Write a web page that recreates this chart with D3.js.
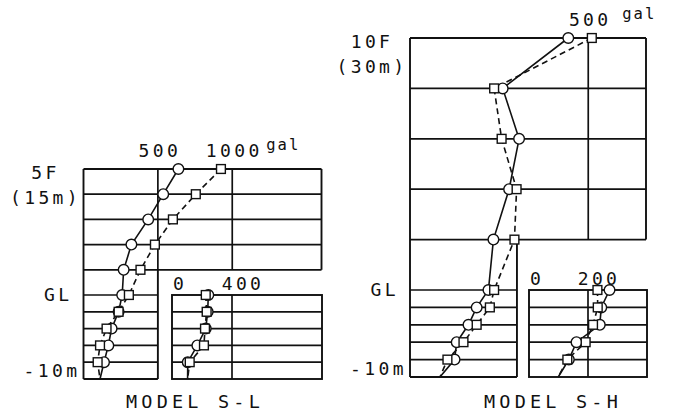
<!DOCTYPE html>
<html>
<head>
<meta charset="utf-8">
<script src="https://cdn.jsdelivr.net/npm/d3@7"></script>
<style>
    body { margin: 0; background: #fff; }
    svg { display: block; }
    text { font-family: "DejaVu Sans Mono", monospace; fill: #111; }
</style>
</head>
<body>
<svg id="chart"></svg>
<script>
// levels in m (above GL +, below GL -), peak values
const levelsSL = [15, 12, 9, 6, 3, 0, -2, -4, -6, -8, -10];
const circleSL = [638, 536, 435, 322, 270, 260, 236, 189, 167, 138, 111];
const squareSL = [924, 755, 601, 480, 383, 305, 236, 155, 111, 95, 111];

const levelsSH = [30, 24, 18, 12, 6, 0, -2, -4, -6, -8, -10];
const circleSH = [444, 260, 306, 278, 234, 220, 187, 164, 131, 125, 84];
const squareSH = [510, 236, 257, 299, 293, 236, 224, 187, 150, 105, 84];

// second quantity, underground only
const depths = [0, -2, -4, -6, -8, -10];
const circleSL2 = [242, 238, 225, 169, 105, 104];
const squareSL2 = [225, 231, 220, 213, 118, 104];
const circleSH2 = [273, 245, 240, 161, 135, 99];
const squareSH2 = [232, 233, 217, 192, 130, 99];

const ticksSL = [500, 1000];
const ticksSL2 = [0, 400];
const ticksSH = [500];
const ticksSH2 = [0, 200];

const floorSL = ["5F", "(15m)"];
const floorSH = ["10F", "(30m)"];

const svg = d3.select("#chart").attr("width", 691).attr("height", 412);
svg.append("rect").attr("width", 691).attr("height", 412).attr("fill", "#fff");

function drawPanel(p) {
    const g = svg.append("g");
    const x = p.x, y = p.y, x2 = p.x2;
    const top = d3.max(p.levels), bottom = d3.min(p.levels);
    const xMax = x.domain()[1], x2Max = x2.domain()[1];

    const line = (x1, y1, x2_, y2_, w) => g.append("line")
        .attr("x1", x1).attr("y1", y1).attr("x2", x2_).attr("y2", y2_)
        .attr("stroke", "#111").attr("stroke-width", w || 1.7);

    // upper frame + grid
    line(x(0), y(top), x(xMax), y(top), 1.9);
    line(x(0), y(top), x(0), y(bottom), 1.9);
    line(x(xMax), y(top), x(xMax), y(p.cutLevel), 1.9);
    p.levels.filter(l => l < top).forEach(l => {
        if (l >= p.cutLevel) line(x(0), y(l), x(xMax), y(l));
        else line(x(0), y(l), x(p.cutX), y(l), l == bottom ? 1.9 : 1.7);
    });
    p.ticks.forEach(t => line(x(t), y(top), x(t), y(p.cutLevel)));
    line(x(p.cutX), y(p.cutLevel), x(p.cutX), y(bottom), 1.9);

    // lower right frame
    g.append("rect")
        .attr("x", x2(0)).attr("y", y(0))
        .attr("width", x2(x2Max) - x2(0)).attr("height", y(bottom) - y(0))
        .attr("fill", "none").attr("stroke", "#111").attr("stroke-width", 1.9);
    depths.filter(d => d < 0 && d > bottom).forEach(d => line(x2(0), y(d), x2(x2Max), y(d)));
    p.ticks2.filter(t => t > 0).forEach(t => line(x2(t), y(0), x2(t), y(bottom)));

    // profiles
    const series = [
        { xs: x, lv: p.levels, vals: p.circle, kind: "circle" },
        { xs: x, lv: p.levels, vals: p.square, kind: "square" },
        { xs: x2, lv: depths, vals: p.circle2, kind: "circle" },
        { xs: x2, lv: depths, vals: p.square2, kind: "square" }
    ];
    series.forEach(s => {
        const pts = s.vals.map((v, i) => ({ v: v, h: s.lv[i] }));
        g.append("path")
            .datum(pts)
            .attr("d", d3.line().x(d => s.xs(d.v)).y(d => y(d.h)))
            .attr("fill", "none").attr("stroke", "#111").attr("stroke-width", 1.6)
            .attr("stroke-dasharray", s.kind == "square" ? "6,4" : null);
    });
    series.forEach(s => {
        const pts = s.vals.map((v, i) => ({ v: v, h: s.lv[i] })).filter(d => d.h > bottom);
        if (s.kind == "circle") {
            g.selectAll(null).data(pts).enter().append("circle")
                .attr("cx", d => s.xs(d.v)).attr("cy", d => y(d.h)).attr("r", 5.3)
                .attr("fill", "#fff").attr("stroke", "#111").attr("stroke-width", 1.4);
        } else {
            g.selectAll(null).data(pts).enter().append("rect")
                .attr("x", d => s.xs(d.v) - 4.4).attr("y", d => y(d.h) - 4.4)
                .attr("width", 8.8).attr("height", 8.8)
                .attr("fill", "#fff").attr("stroke", "#111").attr("stroke-width", 1.4);
        }
    });

    // texts
    const txt = (s, tx, ty, anchor, size, ls) => g.append("text")
        .attr("x", tx).attr("y", ty)
        .attr("text-anchor", anchor)
        .attr("font-size", size)
        .attr("letter-spacing", ls)
        .text(s);

    p.ticks.forEach(t => txt(t, x(t) + 2, y(top) - 12, "middle", 18, 3.4));
    txt("gal", x(d3.max(p.ticks)) + 34, y(top) - 19, "start", 15.5, 2);
    p.ticks2.forEach(t => t == 0
        ? txt(t, x2(t) + 1, y(0) - 5, "start", 18, 3.4)
        : txt(t, x2(t) + 11, y(0) - 5, "middle", 18, 3.4));

    txt(p.floor[0], x(0) - 38, y(top) + 10, "middle", 18, 3.4);
    txt(p.floor[1], x(0) - 38, y(top) + 35, "middle", 18, 3.4);
    txt("GL", x(0) - 11, y(0) + 6, "end", 18, 3.4);
    txt("-10m", x(0) - 3, y(bottom) - 2, "end", 18, 3.4);
    txt(p.title, p.titleX, 408, "middle", 18.5, 4.2);
}

drawPanel({
    x: d3.scaleLinear([0, 1600], [83.5, 321.5]),
    y: d3.scaleLinear([-10, 0, 15], [379, 295, 169]),
    x2: d3.scaleLinear([0, 1000], [172, 322]),
    levels: levelsSL, circle: circleSL, square: squareSL,
    circle2: circleSL2, square2: squareSL2,
    ticks: ticksSL, ticks2: ticksSL2,
    cutLevel: 3, cutX: 500,
    floor: floorSL, title: "MODEL S-L", titleX: 195
});

drawPanel({
    x: d3.scaleLinear([0, 662], [410, 646]),
    y: d3.scaleLinear([-10, 0, 30], [377, 290, 38]),
    x2: d3.scaleLinear([0, 400], [529, 647]),
    levels: levelsSH, circle: circleSH, square: squareSH,
    circle2: circleSH2, square2: squareSH2,
    ticks: ticksSH, ticks2: ticksSH2,
    cutLevel: 6, cutX: 300,
    floor: floorSH, title: "MODEL S-H", titleX: 553
});
</script>
</body>
</html>
